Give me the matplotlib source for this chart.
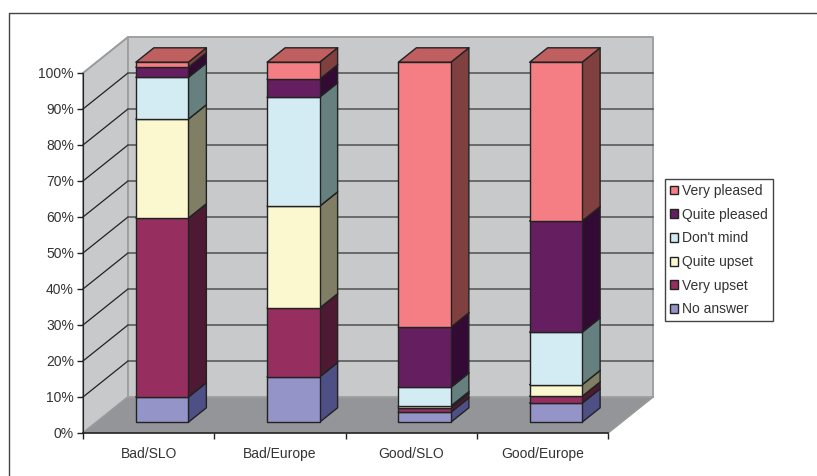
from matplotlib import pyplot as plt
from matplotlib.patches import Patch, Polygon

categories = ["Bad/SLO", "Bad/Europe", "Good/SLO", "Good/Europe"]
answers = ["No answer", "Very upset", "Quite upset", "Don't mind", "Quite pleased", "Very pleased"]

no_answer = [7.0, 12.6, 2.8, 5.3]
very_upset = [49.7, 19.1, 1.2, 1.9]
quite_upset = [27.5, 28.3, 0.5, 3.2]
dont_mind = [11.6, 30.3, 5.2, 14.6]
quite_pleased = [2.8, 5.0, 16.7, 30.9]
very_pleased = [1.4, 4.7, 73.6, 44.1]
series = [no_answer, very_upset, quite_upset, dont_mind, quite_pleased, very_pleased]

colors = ["#9494c8", "#962f60", "#fbf7cf", "#d3ecf3", "#651f60", "#f47e83"]
side_colors = ["#4d4f85", "#4e1a33", "#807f66", "#668080", "#330a33", "#804040"]
top_colors = ["#7373a0", "#76264c", "#c8c5a5", "#a8bcc2", "#4f184c", "#c05f5f"]
y_ticks = [0, 10, 20, 30, 40, 50, 60, 70, 80, 90, 100]

W, H = 817, 476
# depth of the box in axis units
DX = 45 / 131.25
DY = 10.0
BAR_W = 0.4


def poly(ax, pts, color, z, edge="#222222", lw=1.0):
    ax.add_patch(Polygon(pts, closed=True, facecolor=color, edgecolor=edge,
                         linewidth=lw, zorder=z, clip_on=False, joinstyle="round"))


def box(ax, x, y0, y1, j, z):
    # front at 0.3 of the depth, back at 0.7
    x0 = x - BAR_W / 2 + 0.3 * DX
    x1 = x + BAR_W / 2 + 0.3 * DX
    b0 = y0 + 0.3 * DY
    b1 = y1 + 0.3 * DY
    sx = 0.4 * DX
    sy = 0.4 * DY
    poly(ax, [(x1, b0), (x1 + sx, b0 + sy), (x1 + sx, b1 + sy), (x1, b1)], side_colors[j], z)
    poly(ax, [(x0, b1), (x1, b1), (x1 + sx, b1 + sy), (x0 + sx, b1 + sy)], top_colors[j], z)
    poly(ax, [(x0, b0), (x1, b0), (x1, b1), (x0, b1)], colors[j], z + 0.1)


plt.rcParams["font.family"] = ["Liberation Sans", "DejaVu Sans"]
fig = plt.figure(figsize=(W / 100, H / 100), dpi=100)
ax = fig.add_axes([83 / W, 1 - 433 / H, 525 / W, 360 / H])
ax.set_xlim(0, 4)
ax.set_ylim(0, 100)
ax.patch.set_visible(False)

# frame of the figure, only top and left are in the crop
fig.add_artist(plt.Line2D([8.5 / W, 8.5 / W, 1], [0, 1 - 12.5 / H, 1 - 12.5 / H],
                          color="#444444", lw=1.0))

# walls and floor
wall = "#c8c9cb"
poly(ax, [(0, 0), (4, 0), (4 + DX, DY), (DX, DY)], "#939598", 1, edge="none", lw=0)
poly(ax, [(0, 0), (DX, DY), (DX, 100 + DY), (0, 100)], wall, 1, edge="#999999", lw=1.4)
poly(ax, [(DX, DY), (4 + DX, DY), (4 + DX, 100 + DY), (DX, 100 + DY)], wall, 1, edge="#a0a0a0", lw=1.4)
ax.plot([4, 4 + DX], [0, DY], color="#999999", lw=1.2, zorder=1.5, clip_on=False)

for v in y_ticks[1:-1]:
    ax.plot([0, DX], [v, v + DY], color="#222222", lw=0.9, zorder=2, clip_on=False)
    ax.plot([DX, 4 + DX], [v + DY, v + DY], color="#505050", lw=1.1, zorder=2, clip_on=False)

# stacked bars, left to right and bottom to top
for i in range(len(categories)):
    bottom = 0
    for j, vals in enumerate(series):
        box(ax, i + 0.5, bottom, bottom + vals[i], j, 3 + i + j * 0.2)
        bottom += vals[i]

for s in ["top", "right"]:
    ax.spines[s].set_visible(False)
ax.spines["left"].set_color("#222222")
ax.spines["bottom"].set_color("#222222")
ax.spines["bottom"].set_linewidth(1.2)
ax.spines["left"].set_zorder(2.5)
ax.spines["bottom"].set_zorder(2.5)

ax.set_yticks(y_ticks)
ax.set_yticklabels([f"{v}%" for v in y_ticks])
ax.set_xticks(range(5))
ax.set_xticklabels([])
ax.set_xticks([0.5, 1.5, 2.5, 3.5], minor=True)
ax.set_xticklabels(categories, minor=True)
ax.tick_params(axis="x", which="minor", length=0, pad=10, labelsize=10, labelcolor="#333333")
ax.tick_params(axis="x", which="major", length=4, width=1, color="#222222")
ax.tick_params(axis="y", length=4, width=1, color="#222222", pad=2.5, labelsize=10, labelcolor="#333333")

handles = [Patch(facecolor=colors[j], edgecolor="#222222", linewidth=1.0, label=answers[j])
           for j in reversed(range(len(answers)))]
leg = fig.legend(handles=handles, loc="upper left",
                 bbox_to_anchor=(665 / W, 1 - 179 / H), bbox_transform=fig.transFigure,
                 borderaxespad=0, fontsize=10, frameon=True, fancybox=False, framealpha=1,
                 edgecolor="#444444", labelspacing=0.70, handlelength=0.6, handleheight=0.6,
                 handletextpad=0.3, borderpad=0.35, labelcolor="#333333")
leg.get_frame().set_linewidth(1.0)

fig.savefig("out.png", dpi=100)
